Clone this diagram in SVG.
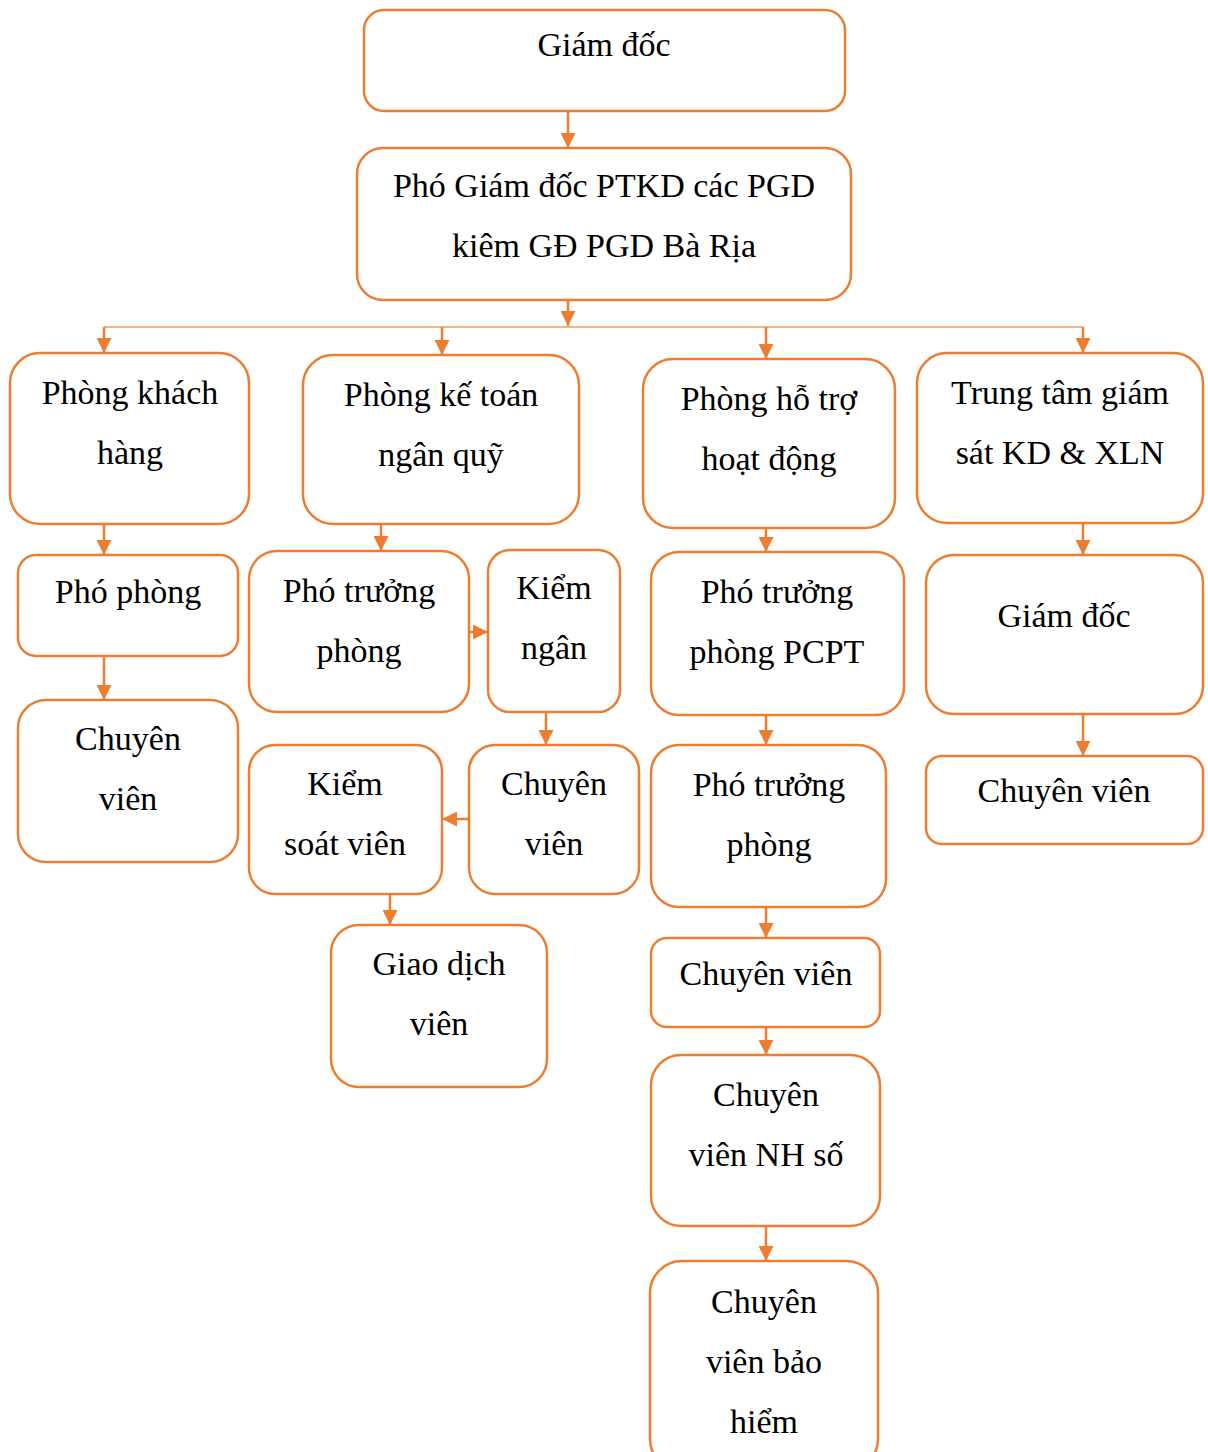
<svg xmlns="http://www.w3.org/2000/svg" width="1208" height="1452" viewBox="0 0 1208 1452">
<defs>
<marker id="ah" viewBox="0 0 14 14" refX="14" refY="7" markerWidth="15" markerHeight="15" markerUnits="userSpaceOnUse" orient="auto">
<path d="M0,0 L14,7 L0,14 z" fill="#ED7D31"/>
</marker>
<style>
.box{fill:#fff;stroke:#ED7D31;stroke-width:2.5}
.t{font-family:'Liberation Serif','DejaVu Serif',serif;font-size:34px;fill:#000;text-anchor:middle}
.c{stroke:#ED7D31;stroke-width:2.5;fill:none;marker-end:url(#ah)}
.bus{stroke:#F19A5A;stroke-width:1.6;fill:none}
</style>
</defs>
<rect width="1208" height="1452" fill="#fff"/>
<g id="connectors">
<line class="c" x1="568" y1="111" x2="568" y2="148"/>
<line class="c" x1="568" y1="300" x2="568" y2="326"/>
<polyline class="bus" points="104,327 1083,327"/>
<line class="c" x1="104" y1="327" x2="104" y2="353"/>
<line class="c" x1="442" y1="327" x2="442" y2="355"/>
<line class="c" x1="766" y1="327" x2="766" y2="359"/>
<line class="c" x1="1083" y1="327" x2="1083" y2="353"/>
<line class="c" x1="104" y1="524" x2="104" y2="555"/>
<line class="c" x1="104" y1="656" x2="104" y2="700"/>
<line class="c" x1="381" y1="524" x2="381" y2="551"/>
<line class="c" x1="469" y1="632" x2="488" y2="632"/>
<line class="c" x1="546" y1="712" x2="546" y2="745"/>
<line class="c" x1="469" y1="819" x2="442" y2="819"/>
<line class="c" x1="390" y1="894" x2="390" y2="925"/>
<line class="c" x1="766" y1="522" x2="766" y2="552"/>
<line class="c" x1="766" y1="715" x2="766" y2="745"/>
<line class="c" x1="766" y1="907" x2="766" y2="938"/>
<line class="c" x1="766" y1="1027" x2="766" y2="1055"/>
<line class="c" x1="766" y1="1226" x2="766" y2="1261"/>
<line class="c" x1="1083" y1="523" x2="1083" y2="555"/>
<line class="c" x1="1083" y1="714" x2="1083" y2="756"/>
</g>
<g font-family="Liberation Serif, DejaVu Serif, serif">
<g id="n1"><rect class="box" x="364" y="10" width="481" height="101" rx="20"/><text class="t" x="604" y="56">Giám đốc</text></g>
<g id="n2"><rect class="box" x="357" y="148" width="494" height="152" rx="26"/><text class="t" x="604" y="197">Phó Giám đốc PTKD các PGD</text><text class="t" x="604" y="257">kiêm GĐ PGD Bà Rịa</text></g>
<g id="n3"><rect class="box" x="10" y="353" width="239" height="171" rx="30"/><text class="t" x="130" y="404">Phòng khách</text><text class="t" x="130" y="464">hàng</text></g>
<g id="n4"><rect class="box" x="303" y="355" width="276" height="169" rx="30"/><text class="t" x="441" y="406">Phòng kế toán</text><text class="t" x="441" y="466">ngân quỹ</text></g>
<g id="n5"><rect class="box" x="643" y="359" width="252" height="169" rx="30"/><text class="t" x="769" y="410">Phòng hỗ trợ</text><text class="t" x="769" y="470">hoạt động</text></g>
<g id="n6"><rect class="box" x="917" y="353" width="286" height="170" rx="30"/><text class="t" x="1060" y="404">Trung tâm giám</text><text class="t" x="1060" y="464">sát KD &amp; XLN</text></g>
<g id="n7"><rect class="box" x="18" y="555" width="220" height="101" rx="18"/><text class="t" x="128" y="603">Phó phòng</text></g>
<g id="n8"><rect class="box" x="18" y="700" width="220" height="162" rx="28"/><text class="t" x="128" y="750">Chuyên</text><text class="t" x="128" y="810">viên</text></g>
<g id="n9"><rect class="box" x="249" y="551" width="220" height="161" rx="28"/><text class="t" x="359" y="602">Phó trưởng</text><text class="t" x="359" y="662">phòng</text></g>
<g id="n10"><rect class="box" x="488" y="550" width="132" height="162" rx="22"/><text class="t" x="554" y="599">Kiểm</text><text class="t" x="554" y="659">ngân</text></g>
<g id="n11"><rect class="box" x="469" y="745" width="170" height="149" rx="26"/><text class="t" x="554" y="795">Chuyên</text><text class="t" x="554" y="855">viên</text></g>
<g id="n12"><rect class="box" x="249" y="745" width="193" height="149" rx="26"/><text class="t" x="345" y="795">Kiểm</text><text class="t" x="345" y="855">soát viên</text></g>
<g id="n13"><rect class="box" x="331" y="925" width="216" height="162" rx="28"/><text class="t" x="439" y="975">Giao dịch</text><text class="t" x="439" y="1035">viên</text></g>
<g id="n14"><rect class="box" x="651" y="552" width="253" height="163" rx="28"/><text class="t" x="777" y="603">Phó trưởng</text><text class="t" x="777" y="663">phòng PCPT</text></g>
<g id="n15"><rect class="box" x="651" y="745" width="235" height="162" rx="28"/><text class="t" x="769" y="796">Phó trưởng</text><text class="t" x="769" y="856">phòng</text></g>
<g id="n16"><rect class="box" x="651" y="938" width="229" height="89" rx="16"/><text class="t" x="766" y="985">Chuyên viên</text></g>
<g id="n17"><rect class="box" x="651" y="1055" width="229" height="171" rx="30"/><text class="t" x="766" y="1106">Chuyên</text><text class="t" x="766" y="1166">viên NH số</text></g>
<g id="n18"><rect class="box" x="650" y="1261" width="228" height="210" rx="32"/><text class="t" x="764" y="1313">Chuyên</text><text class="t" x="764" y="1373">viên bảo</text><text class="t" x="764" y="1433">hiểm</text></g>
<g id="n19"><rect class="box" x="926" y="555" width="277" height="159" rx="28"/><text class="t" x="1064" y="627">Giám đốc</text></g>
<g id="n20"><rect class="box" x="926" y="756" width="277" height="88" rx="16"/><text class="t" x="1064" y="802">Chuyên viên</text></g>
</g>
</svg>
